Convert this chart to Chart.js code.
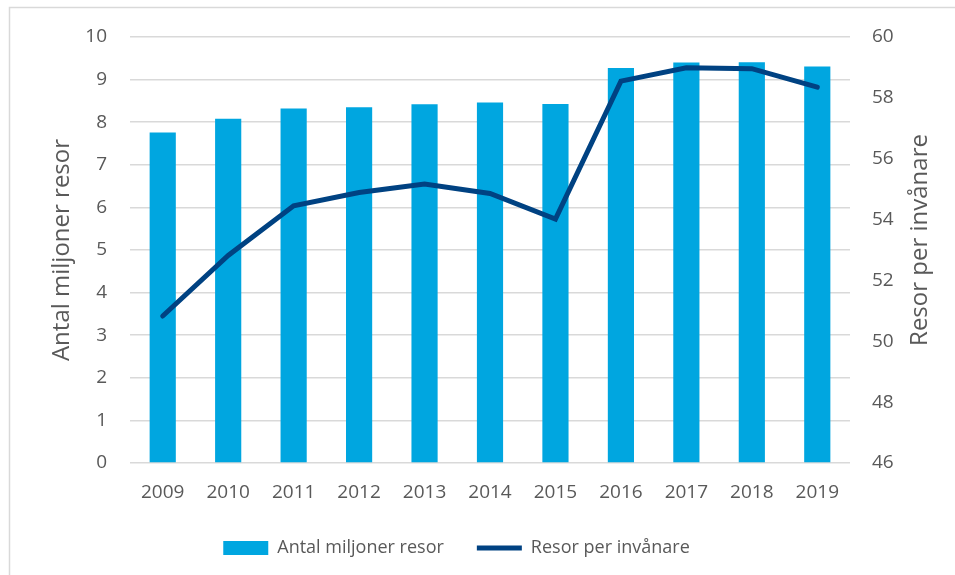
<!DOCTYPE html>
<html>
<head>
<meta charset="utf-8">
<script src="https://cdn.jsdelivr.net/npm/chart.js@4.4.0/dist/chart.umd.min.js"></script>
<style>
  html, body { margin: 0; padding: 0; background: #fff; }
  #wrap { width: 955px; height: 575px; position: relative; }
</style>
</head>
<body>
<div id="wrap"><canvas id="chart"></canvas></div>
<script>
// --- data ---
const years = ['2009', '2010', '2011', '2012', '2013', '2014', '2015', '2016', '2017', '2018', '2019'];
const tripsMillions = [7.76, 8.08, 8.32, 8.35, 8.42, 8.46, 8.43, 9.27, 9.40, 9.41, 9.31];
const tripsPerCapita = [50.83, 52.82, 54.45, 54.89, 55.17, 54.86, 54.02, 58.55, 58.99, 58.96, 58.35];

const FONT = "'Open Sans', sans-serif";
const TEXT = '#595959';
const GRID = '#d9d9d9';
const RIGHT_TITLE = 'Resor per invånare';

// thin frame on the left and top, like the exported chart box
const framePlugin = {
    id: 'frame',
    beforeDraw(chart) {
        const ctx = chart.ctx;
        ctx.save();
        ctx.strokeStyle = GRID;
        ctx.lineWidth = 1.5;
        ctx.beginPath();
        ctx.moveTo(9.5, 575);
        ctx.lineTo(9.5, 7.5);
        ctx.lineTo(955, 7.5);
        ctx.stroke();
        ctx.restore();
    }
};

// right axis title reads bottom-to-top (Chart.js would rotate it the other way)
const rightTitlePlugin = {
    id: 'rightTitle',
    afterDraw(chart) {
        const ctx = chart.ctx;
        const area = chart.chartArea;
        ctx.save();
        ctx.translate(920, (area.top + area.bottom) / 2 - 10);
        ctx.rotate(-Math.PI / 2);
        ctx.fillStyle = TEXT;
        ctx.font = '24px ' + FONT;
        ctx.textAlign = 'center';
        ctx.textBaseline = 'middle';
        ctx.fillText(RIGHT_TITLE, 0, 0);
        ctx.restore();
    }
};

const ctx = document.getElementById('chart').getContext('2d');
new Chart(ctx, {
    type: 'bar',
    data: {
        labels: years,
        datasets: [
            {
                type: 'bar',
                label: 'Antal miljoner resor',
                data: tripsMillions,
                backgroundColor: '#00A6E0',
                borderWidth: 0,
                yAxisID: 'y',
                order: 1,
                categoryPercentage: 1,
                barPercentage: 0.4,
                pointStyle: 'rect'
            },
            {
                type: 'line',
                label: RIGHT_TITLE,
                data: tripsPerCapita,
                borderColor: '#004282',
                backgroundColor: '#004282',
                borderWidth: 5,
                borderCapStyle: 'round',
                pointRadius: 0,
                tension: 0,
                yAxisID: 'y1',
                order: 0,
                pointStyle: 'line'
            }
        ]
    },
    options: {
        responsive: true,
        maintainAspectRatio: false,
        animation: false,
        layout: { padding: { top: 37, left: 0, right: 42, bottom: 8 } },
        plugins: {
            tooltip: { enabled: false },
            legend: {
                position: 'bottom',
                labels: {
                    usePointStyle: true,
                    pointStyleWidth: 45,
                    boxHeight: 14,
                    padding: 33,
                    color: TEXT,
                    font: { family: FONT, size: 18 },
                    sort: (a, b) => a.datasetIndex - b.datasetIndex
                }
            }
        },
        scales: {
            x: {
                grid: { display: false },
                border: { display: false },
                ticks: { color: TEXT, font: { family: FONT, size: 19 }, padding: 10 },
                afterFit: s => { s.height = 43; }
            },
            y: {
                position: 'left',
                min: 0, max: 10,
                ticks: { stepSize: 1, color: TEXT, font: { family: FONT, size: 19 }, padding: 23 },
                grid: { color: GRID, lineWidth: 1.5, drawTicks: false },
                border: { display: false },
                title: {
                    display: true,
                    text: 'Antal miljoner resor',
                    color: TEXT,
                    font: { family: FONT, size: 24 },
                    padding: { top: 48, bottom: 0 }
                },
                afterFit: s => { s.width = 130; }
            },
            y1: {
                position: 'right',
                min: 46, max: 60,
                ticks: { stepSize: 2, color: TEXT, font: { family: FONT, size: 19 }, padding: 22 },
                grid: { display: false, drawTicks: false },
                border: { display: false },
                afterFit: s => { s.width = 63; }
            }
        }
    },
    plugins: [framePlugin, rightTitlePlugin]
});
</script>
</body>
</html>
